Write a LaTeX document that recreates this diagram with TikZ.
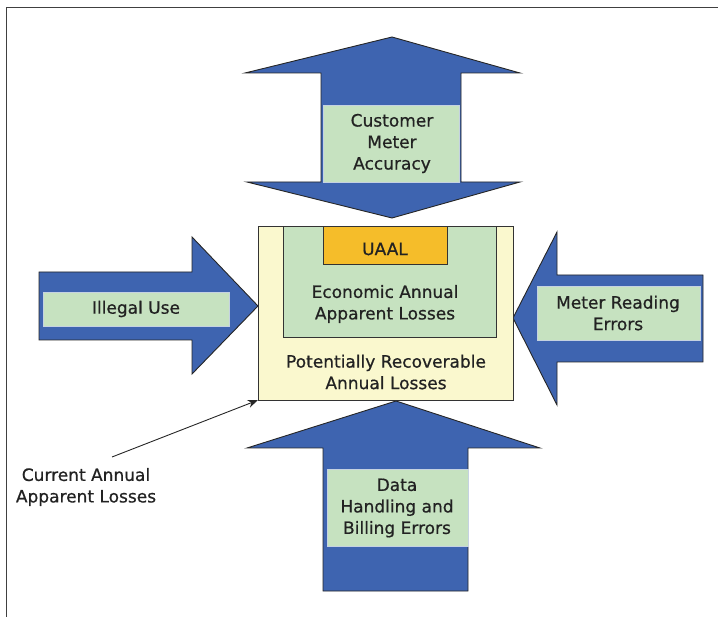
\documentclass[tikz,border=0pt]{standalone}
\usepackage{fontspec}
\setmainfont{DejaVu Sans}[FakeBold=0.7]
\usetikzlibrary{arrows.meta}
\definecolor{arrowblue}{HTML}{3E64B0}
\definecolor{lightgreen}{HTML}{C6E2C0}
\definecolor{paleyellow}{HTML}{FAF8CE}
\definecolor{uaalorange}{HTML}{F5BD2A}
\definecolor{textdark}{HTML}{222222}
\tikzset{
  bigarrow/.style={fill=arrowblue, draw=black!85, line width=0.9pt, line join=miter},
  greenbox/.style={fill=lightgreen, draw=lightgreen!80!blue!60, line width=0.5pt},
  lbl/.style={text=textdark, align=center, font=\fontsize{17}{21.5}\selectfont, inner sep=0pt},
  frameline/.style={draw=black!75, line width=1pt},
}
\begin{document}
\begin{tikzpicture}[x=1pt,y=-1pt]
\useasboundingbox (0,0) rectangle (718,617);
% frame
\draw[frameline] (718,8) -- (6,8) -- (6,617);
% top double arrow
\draw[bigarrow] (392,37) -- (520,73) -- (461,73) -- (461,182) -- (520,182) -- (392,218)
  -- (247,182) -- (321,182) -- (321,73) -- (245,73) -- cycle;
\fill[greenbox] (323,105) rectangle (459,182);
\node[lbl] (cma) at (392,143.5) {Customer\\Meter\\Accuracy};
% left arrow
\draw[bigarrow] (39,272) -- (192,272) -- (192,237) -- (258,306) -- (192,374) -- (192,340) -- (39,340) -- cycle;
\fill[greenbox] (43,292) rectangle (229,326);
\node[lbl] (illegal) at (136,309) {Illegal Use};
% right arrow
\draw[bigarrow] (513,318) -- (557,232) -- (557,275) -- (703,275) -- (703,362) -- (557,362) -- (557,405) -- cycle;
\fill[greenbox] (537,286) rectangle (700,340);
\node[lbl] (mre) at (618,313) {Meter Reading\\Errors};
% bottom arrow
\draw[bigarrow] (396,401) -- (540,448) -- (468,448) -- (468,591) -- (323,591) -- (323,448) -- (247,448) -- cycle;
\fill[greenbox] (327,469) rectangle (468,546);
\node[lbl] (dhb) at (397,508) {Data\\Handling and\\Billing Errors};
% centre box
\draw[fill=paleyellow, draw=black!80, line width=0.9pt] (258,226) rectangle (513,400);
\node[inner sep=0pt, minimum width=255pt, minimum height=174pt] (centre) at (385.5,313) {};
\draw[fill=lightgreen, draw=black!80, line width=0.9pt] (283,226) rectangle (496,337);
\draw[fill=uaalorange, draw=black!80, line width=0.9pt] (323,226) rectangle (447,264);
\node[lbl] (uaal) at (385,249) {UAAL};
\node[lbl] (eaal) at (385,304) {Economic Annual\\Apparent Losses};
\node[lbl] (pral) at (386,372) {Potentially Recoverable\\Annual Losses};
% annotation
\node[lbl] (caal) at (86,487) {Current Annual\\Apparent Losses};
\coordinate (annstart) at (112,457);
\draw[-{Stealth[length=10pt,width=8pt]}, line width=0.9pt, black!85] (annstart) -- (centre.south west);
\end{tikzpicture}
\end{document}
